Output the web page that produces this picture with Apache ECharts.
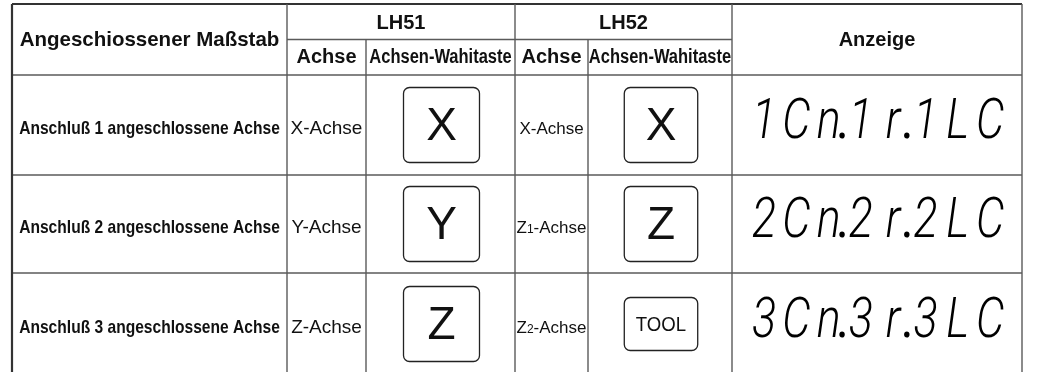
<!DOCTYPE html>
<html>
<head>
<meta charset="utf-8">
<script src="https://cdn.jsdelivr.net/npm/echarts@6/dist/echarts.min.js"></script>
<style>
html,body{margin:0;padding:0;background:#fff;}
#chart{width:1044px;height:372px;}
</style>
</head>
<body>
<div id="chart"></div>
<script>
// ---------- data ----------
const headerScale = 'Angeschiossener Maßstab';
const headerGroups = ['LH51', 'LH52'];
const headerSub = ['Achse', 'Achsen-Wahitaste'];
const headerDisplay = 'Anzeige';
const rowLabels = [
  'Anschluß 1 angeschlossene Achse',
  'Anschluß 2 angeschlossene Achse',
  'Anschluß 3 angeschlossene Achse'
];
const lh51Axes = ['X-Achse', 'Y-Achse', 'Z-Achse'];
const lh51Keys = ['X', 'Y', 'Z'];
const lh52Axes = ['X-Achse', 'Z1-Achse', 'Z2-Achse'];
const lh52Keys = ['X', 'Z', 'TOOL'];
const displays = ['1Cn.1r.1LC', '2Cn.2r.2LC', '3Cn.3r.3LC'];

// ---------- layout (table geometry in axis units) ----------
const colEdges = [12, 287, 366, 515, 588, 732, 1022];
const rowEdges = [4, 39.5, 75, 175, 273, 375];

const SANS = 'Liberation Sans, Arial, sans-serif';
const INNER = { stroke: '#5a5a5a', lineWidth: 1.4 };
const OUTER = { stroke: '#333', lineWidth: 2.2 };

// ---------- build items ----------
const items = [];
function hLine(r, c0, c1, st) { items.push({ kind: 'hline', r, c0, c1, st }); }
function vLine(c, r0, r1, st) { items.push({ kind: 'vline', c, r0, r1, st }); }
hLine(0, 0, 6, OUTER);
hLine(1, 1, 5, INNER);
hLine(2, 0, 6, INNER);
hLine(3, 0, 6, INNER);
hLine(4, 0, 6, INNER);
hLine(5, 0, 6, OUTER);
vLine(0, 0, 5, OUTER);
vLine(1, 0, 5, INNER);
vLine(2, 1, 5, INNER);
vLine(3, 0, 5, INNER);
vLine(4, 1, 5, INNER);
vLine(5, 0, 5, INNER);
vLine(6, 0, 5, INNER);

// header texts
items.push({ kind: 'text', c0: 0, c1: 1, r0: 0, r1: 2, text: headerScale, size: 20.5, weight: 'bold', sx: 1, dy: 1 });
headerGroups.forEach((g, i) => {
  items.push({ kind: 'text', c0: 1 + 2 * i, c1: 3 + 2 * i, r0: 0, r1: 1, text: g, size: 20, weight: 'bold', sx: 1, dy: 2 });
  items.push({ kind: 'text', c0: 1 + 2 * i, c1: 2 + 2 * i, r0: 1, r1: 2, text: headerSub[0], size: 20, weight: 'bold', sx: 1, dy: 0 });
  items.push({ kind: 'text', c0: 2 + 2 * i, c1: 3 + 2 * i, r0: 1, r1: 2, text: headerSub[1], size: 20, weight: 'bold', sx: 0.825, dy: 0 });
});
items.push({ kind: 'text', c0: 5, c1: 6, r0: 0, r1: 2, text: headerDisplay, size: 20, weight: 'bold', sx: 1, dy: 1 });

// body
rowLabels.forEach((lab, i) => {
  const r = 2 + i;
  items.push({ kind: 'text', c0: 0, c1: 1, r0: r, r1: r + 1, text: lab, size: 19, weight: 'bold', sx: 0.82, dy: 4 });
  items.push({ kind: 'text', c0: 1, c1: 2, r0: r, r1: r + 1, text: lh51Axes[i], size: 19, weight: 'normal', sx: 1, dy: 4 });
  items.push({ kind: 'key', c0: 2, c1: 3, r0: r, r1: r + 1, text: lh51Keys[i] });
  items.push({ kind: 'text', c0: 3, c1: 4, r0: r, r1: r + 1, text: lh52Axes[i], size: 17, weight: 'normal', sx: 1, dy: 4, sub: true });
  items.push({ kind: 'key', c0: 4, c1: 5, r0: r, r1: r + 1, text: lh52Keys[i] });
  items.push({ kind: 'display', c0: 5, c1: 6, r0: r, r1: r + 1, text: displays[i] });
});

// ---------- render ----------
function renderItem(params, api) {
  const it = items[params.dataIndex];
  if (it.kind === 'hline') {
    const a = api.coord([colEdges[it.c0], rowEdges[it.r]]);
    const b = api.coord([colEdges[it.c1], rowEdges[it.r]]);
    return { type: 'line', shape: { x1: a[0], y1: a[1], x2: b[0], y2: b[1] }, style: Object.assign({}, it.st) };
  }
  if (it.kind === 'vline') {
    const a = api.coord([colEdges[it.c], rowEdges[it.r0]]);
    const b = api.coord([colEdges[it.c], rowEdges[it.r1]]);
    return { type: 'line', shape: { x1: a[0], y1: a[1], x2: b[0], y2: b[1] }, style: Object.assign({}, it.st) };
  }
  const p0 = api.coord([colEdges[it.c0], rowEdges[it.r0]]);
  const p1 = api.coord([colEdges[it.c1], rowEdges[it.r1]]);
  const cx = (p0[0] + p1[0]) / 2;
  const cy = (p0[1] + p1[1]) / 2;
  const w = p1[0] - p0[0];

  if (it.kind === 'text') {
    let style;
    if (it.sub) {
      const m = it.text.match(/^([A-Z])(\d)(-.*)$/);
      if (m) {
        style = {
          text: '{a|' + m[1] + '}{s|' + m[2] + '}{a|' + m[3] + '}',
          rich: {
            a: { fontSize: it.size, fontFamily: SANS, fill: '#111', lineHeight: 20 },
            s: { fontSize: 12, fontFamily: SANS, fill: '#111', lineHeight: 20, verticalAlign: 'bottom', padding: [0, 0, 2, 0] }
          }
        };
      }
    }
    if (!style) {
      style = { text: it.text, fontSize: it.size, fontWeight: it.weight, fontFamily: SANS, fill: '#111' };
    }
    style.x = 0; style.y = 0; style.align = 'center'; style.verticalAlign = 'middle';
    return { type: 'text', x: cx, y: cy + (it.dy || 0), scaleX: it.sx, style };
  }

  if (it.kind === 'key') {
    const small = it.text.length > 1;
    const bw = w * 0.51;
    const bh = small ? 53 : 75;
    const bx = cx + 1 - bw / 2;
    return {
      type: 'group',
      children: [
        { type: 'rect', shape: { x: bx, y: cy - bh / 2, width: bw, height: bh, r: 6 },
          style: { fill: '#fff', stroke: '#222', lineWidth: 1.3 } },
        { type: 'text', x: cx + 1, y: cy + (small ? 1 : 2), scaleX: small ? 0.93 : 1,
          style: { x: 0, y: 0, text: it.text, fontSize: small ? 20 : 46, fontFamily: SANS, fill: '#111',
                   align: 'center', verticalAlign: 'middle' } }
      ]
    };
  }

  if (it.kind === 'display') {
    const tokens = [];
    for (const ch of it.text) {
      if (ch === '.' && tokens.length) tokens[tokens.length - 1].dot = true;
      else tokens.push({ ch, dot: false });
    }
    const start = p0[0] + 20;
    const span = p1[0] - 20 - start;
    const glyphW = 24;
    const pitch = (span - glyphW) / (tokens.length - 1);
    const y = cy - 1;
    const children = [];
    const fs = { fontSize: 56, fontFamily: 'Roboto, sans-serif', fontWeight: 300, fontStyle: 'italic', fill: '#000',
                 align: 'center', verticalAlign: 'middle', x: 0, y: 0 };
    tokens.forEach((t, k) => {
      const gx = start + glyphW / 2 + k * pitch;
      children.push({ type: 'text', x: gx, y: y, scaleX: 0.8, style: Object.assign({ text: t.ch }, fs) });
      if (t.dot) {
        children.push({ type: 'text', x: gx + 16, y: y, scaleX: 0.9, style: Object.assign({}, fs, { text: '.', fontWeight: 400 }) });
      }
    });
    return { type: 'group', children };
  }
  return null;
}

const chart = echarts.init(document.getElementById('chart'), null, { renderer: 'canvas' });
chart.setOption({
  animation: false,
  backgroundColor: '#fff',
  grid: { left: 0, right: 0, top: 0, bottom: 0 },
  xAxis: { type: 'value', min: 0, max: 1044, show: false },
  yAxis: { type: 'value', min: 0, max: 372, inverse: true, show: false },
  series: [{
    type: 'custom',
    coordinateSystem: 'cartesian2d',
    clip: false,
    silent: true,
    renderItem,
    data: items.map((_, i) => [i, 0])
  }]
});
</script>
</body>
</html>
